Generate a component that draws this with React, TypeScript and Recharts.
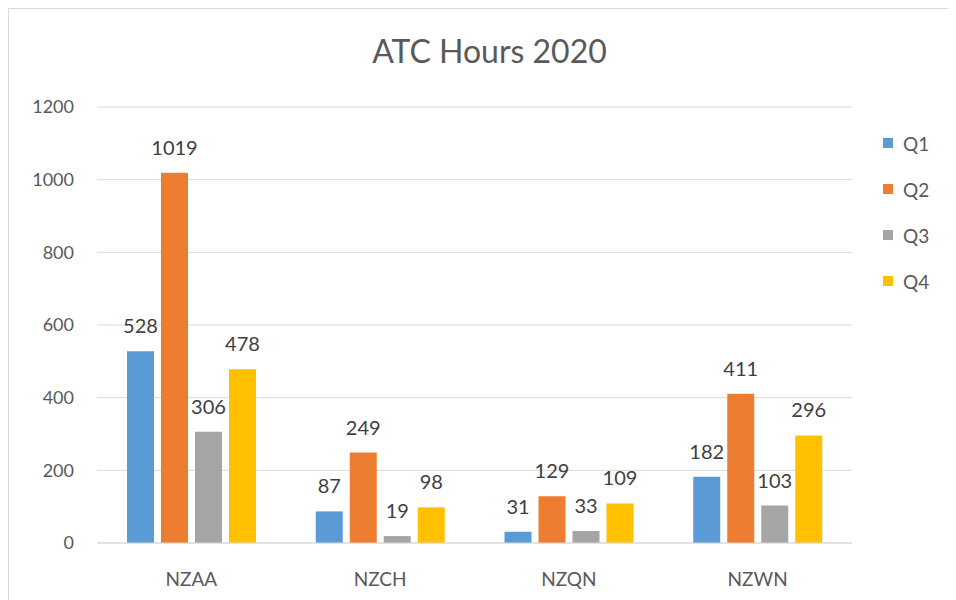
import { BarChart, Bar, XAxis, YAxis, CartesianGrid, LabelList } from 'recharts'

const airports = ['NZAA', 'NZCH', 'NZQN', 'NZWN']
const q1 = [528, 87, 31, 182]
const q2 = [1019, 249, 129, 411]
const q3 = [306, 19, 33, 103]
const q4 = [478, 98, 109, 296]
const yTicks = [0, 200, 400, 600, 800, 1000, 1200]

const series = [
  { key: 'Q1', color: '#5B9BD5' },
  { key: 'Q2', color: '#ED7D31' },
  { key: 'Q3', color: '#A5A5A5' },
  { key: 'Q4', color: '#FFC000' },
]

const data = airports.map((name, i) => ({
  name,
  Q1: q1[i],
  Q2: q2[i],
  Q3: q3[i],
  Q4: q4[i],
}))

const font = 'Lato, Calibri, sans-serif'

export default function App() {
  return (
    <>
      <div style={{ marginTop: -7, height: 1, width: 948, background: '#d9d9d9' }} />
      <div
        style={{
          position: 'relative',
          marginTop: 6,
          width: 948,
          height: 592,
          boxSizing: 'border-box',
          borderLeft: '1px solid #d9d9d9',
          borderTop: '1px solid #d9d9d9',
          background: '#fff',
          fontFamily: font,
          overflow: 'hidden',
        }}
      >
        <div
          style={{
            position: 'absolute',
            top: 22,
            left: 0,
            width: 961,
            textAlign: 'center',
            fontSize: 32,
            color: '#595959',
          }}
        >
          ATC Hours 2020
        </div>
        <div style={{ position: 'absolute', left: 874, top: 111 }}>
          {series.map((s) => (
            <div
              key={s.key}
              style={{ display: 'flex', alignItems: 'center', height: 46, fontSize: 19, color: '#595959' }}
            >
              <span style={{ width: 10, height: 10, background: s.color, marginRight: 10 }} />
              {s.key}
            </div>
          ))}
        </div>
        <BarChart
          width={947}
          height={591}
          data={data}
          margin={{ top: 98, right: 104, bottom: 0, left: 0 }}
          barSize={27}
          barGap={7}
        >
          <CartesianGrid vertical={false} stroke="#d9d9d9" />
          <XAxis
            dataKey="name"
            height={57}
            axisLine={{ stroke: '#d9d9d9' }}
            tickLine={false}
            tickSize={0}
            tickMargin={30}
            tick={{ fill: '#595959', fontSize: 19, fontFamily: font }}
          />
          <YAxis
            width={88}
            domain={[0, 1200]}
            ticks={yTicks}
            axisLine={false}
            tickLine={false}
            tickSize={0}
            tickMargin={23}
            tick={{ fill: '#595959', fontSize: 18, fontFamily: font }}
          />
          {series.map((s) => (
            <Bar key={s.key} dataKey={s.key} fill={s.color} isAnimationActive={false}>
              <LabelList
                dataKey={s.key}
                position="top"
                offset={18}
                style={{ fill: '#404040', fontSize: 20, fontFamily: font }}
              />
            </Bar>
          ))}
        </BarChart>
      </div>
    </>
  )
}
